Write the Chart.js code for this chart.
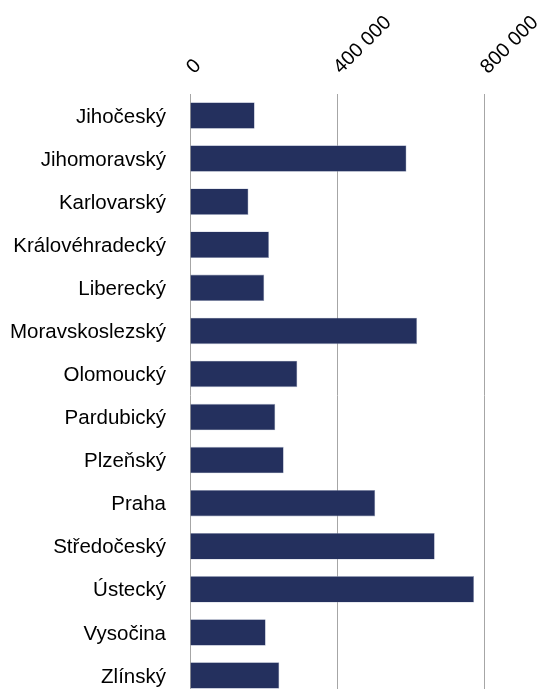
<!DOCTYPE html>
<html>
<head>
<meta charset="utf-8">
<script src="https://cdn.jsdelivr.net/npm/chart.js@4/dist/chart.umd.min.js"></script>
<style>
html,body{margin:0;padding:0;background:#fff;overflow:hidden;}
canvas{display:block;}
</style>
</head>
<body>
<canvas id="c" width="543" height="697"></canvas>
<script>
const categories = ['Jihočeský','Jihomoravský','Karlovarský','Královéhradecký','Liberecký','Moravskoslezský','Olomoucký','Pardubický','Plzeňský','Praha','Středočeský','Ústecký','Vysočina','Zlínský'];
const values = [176000,589000,159000,215000,202000,618000,292000,232000,255000,504000,666000,773000,206000,243000];
const tickValues = [0,400000,800000];
const tickLabels = ['0','400 000','800 000'];

new Chart(document.getElementById('c'), {
  type: 'bar',
  data: {
    labels: categories,
    datasets: [{
      data: values,
      backgroundColor: '#24305E',
      borderColor: 'rgba(150,158,185,0.9)',
      borderWidth: 0.6,
      barPercentage: 0.615,
      categoryPercentage: 1
    }]
  },
  options: {
    indexAxis: 'y',
    responsive: false,
    animation: false,
    events: [],
    layout: { padding: { left: 0, right: 59, top: 0, bottom: 0 } },
    plugins: { legend: { display: false }, tooltip: { enabled: false } },
    scales: {
      x: {
        position: 'top',
        min: 0, max: 800000,
        afterBuildTicks: (s) => { s.ticks = tickValues.map(v => ({ value: v })); },
        afterFit: (s) => { s.height = 94; s.paddingLeft = 0; s.paddingRight = 0; },
        border: { display: false },
        grid: { color: '#A6A6A6', lineWidth: 1, drawTicks: false },
        ticks: {
          minRotation: 45, maxRotation: 45,
          padding: 15,
          labelOffset: 17,
          color: '#000',
          font: { family: 'Liberation Sans, Arial, sans-serif', size: 20 },
          callback: (v) => tickLabels[tickValues.indexOf(v)]
        }
      },
      y: {
        afterFit: (s) => { s.width = 190; s.paddingTop = 0; s.paddingBottom = 0; },
        border: { display: false },
        grid: { display: false, drawTicks: false },
        ticks: {
          padding: 24,
          labelOffset: 1.5,
          color: '#000',
          font: { family: 'Liberation Sans, Arial, sans-serif', size: 20.5 }
        }
      }
    }
  }
});
</script>
</body>
</html>
